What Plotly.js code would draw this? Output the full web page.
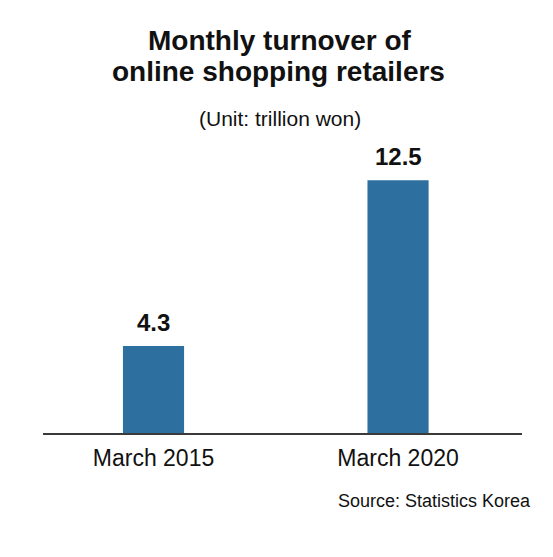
<!DOCTYPE html>
<html>
<head>
<meta charset="utf-8">
<script src="https://cdn.plot.ly/plotly-3.0.1.min.js"></script>
<style>
  html, body { margin: 0; padding: 0; background: #fff; }
  #chart { width: 553px; height: 557px; }
</style>
</head>
<body>
<div id="chart"></div>
<script>
var periods = ['March 2015', 'March 2020'];
var turnover = [4.3, 12.5];
var valueLabels = ['4.3', '12.5'];

var FONT = 'Liberation Sans, Arial, Helvetica, sans-serif';

// plot area spans 43..522 px wide, 150..433 px tall
function py(px) { return (433 - px) / 283; }
function px(x) { return (x - 43) / 479; }

var trace = {
    type: 'bar',
    x: periods,
    y: turnover,
    width: 0.25,
    marker: { color: '#2d6f9e' },
    hoverinfo: 'x+y'
};

var annotations = periods.map(function(p, i) {
    return {
        x: p, y: turnover[i], xref: 'x', yref: 'y',
        text: valueLabels[i], showarrow: false,
        yanchor: 'bottom', yshift: 8,
        font: { family: FONT, size: 24, color: '#111', weight: 'bold' }
    };
});

annotations.push(
    { text: '<b>Monthly turnover of</b>', x: px(280), y: py(41) },
    { text: '<b>online shopping retailers</b>', x: px(278), y: py(71) },
    { text: '(Unit: trillion won)', x: px(280), y: py(118), size: 21 },
    { text: 'Source: Statistics Korea', x: px(533), y: py(501), size: 18, xanchor: 'right' }
);
for (var i = 2; i < annotations.length; i++) {
    var a = annotations[i];
    a.xref = 'paper'; a.yref = 'paper'; a.showarrow = false;
    a.xanchor = a.xanchor || 'center'; a.yanchor = 'middle';
    a.font = { family: FONT, size: a.size || 28, color: '#111' };
    delete a.size;
}

var layout = {
    width: 553,
    height: 557,
    margin: { l: 43, r: 31, t: 150, b: 124 },
    paper_bgcolor: '#fff',
    plot_bgcolor: '#fff',
    showlegend: false,
    xaxis: {
        type: 'category',
        range: [-0.452, 1.507],
        showgrid: false,
        zeroline: false,
        showline: true,
        linecolor: '#3a3a3a',
        linewidth: 2,
        ticks: '',
        ticklabelstandoff: 3,
        tickfont: { family: FONT, size: 23, color: '#111' },
        fixedrange: true
    },
    yaxis: {
        range: [0, 14],
        visible: false,
        fixedrange: true
    },
    annotations: annotations
};

Plotly.newPlot('chart', [trace], layout, { displayModeBar: false, staticPlot: true });
</script>
</body>
</html>
